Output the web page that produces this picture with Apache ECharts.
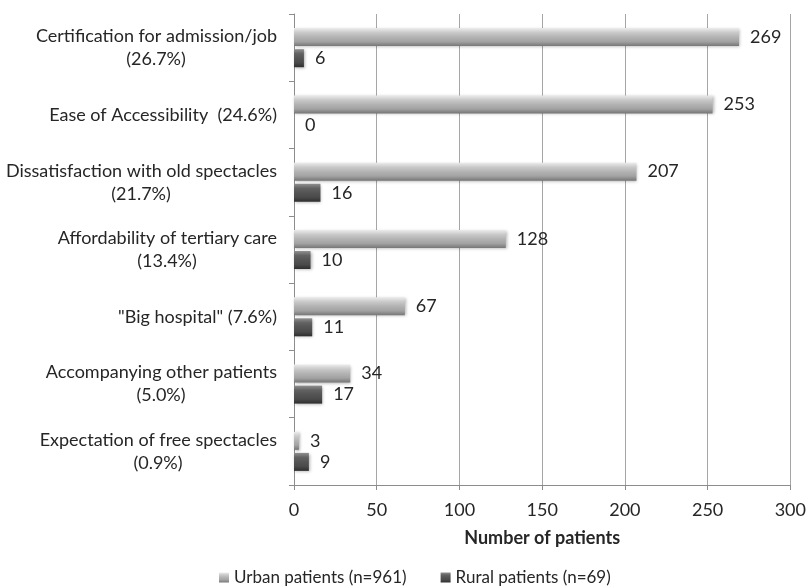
<!DOCTYPE html>
<html>
<head>
<meta charset="utf-8">
<script src="https://cdn.jsdelivr.net/npm/echarts@6/dist/echarts.min.js"></script>
<style>
  html, body { margin: 0; padding: 0; background: #fff; }
  #chart { width: 809px; height: 586px; }
</style>
</head>
<body>
<div id="chart"></div>
<script>
const reasonLines = [
  ["Certification for admission/job", "(26.7%)"],
  ["Ease of Accessibility  (24.6%)"],
  ["Dissatisfaction with old spectacles", "(21.7%)"],
  ["Affordability of tertiary care", "(13.4%)"],
  ["\"Big hospital\" (7.6%)"],
  ["Accompanying other patients", "(5.0%)"],
  ["Expectation of free spectacles", "(0.9%)"]
];
const urbanValues = [269, 253, 207, 128, 67, 34, 3];
const ruralValues = [6, 0, 16, 10, 11, 17, 9];
const seriesNames = ["Urban patients (n=961)", "Rural patients (n=69)"];

const FONT = "Lato";
const textColor = "#262626";
const LABEL_SIZE = 18;

// second line of a label is centred under the first one
const ctx = document.createElement("canvas").getContext("2d");
ctx.font = LABEL_SIZE + "px " + FONT;
const rich = { a: { fontSize: LABEL_SIZE, lineHeight: 23 } };
reasonLines.forEach((l, i) => {
  rich["c" + i] = {
    fontSize: LABEL_SIZE,
    lineHeight: 23,
    width: Math.ceil(ctx.measureText(l[0]).width),
    align: "center"
  };
});
const categories = reasonLines.map(l => l[0]);

const grad = (stops) => new echarts.graphic.LinearGradient(0, 0, 0, 1,
  stops.map((c, i) => ({ offset: i / (stops.length - 1), color: c })));

const urbanFill = grad(["#ececec", "#c9c9c9", "#b3b3b3", "#a2a2a2", "#767676"]);
const ruralFill = grad(["#8f8f8f", "#626262", "#545454", "#4a4a4a", "#2e2e2e"]);

const chart = echarts.init(document.getElementById("chart"));
chart.setOption({
  animation: false,
  textStyle: { fontFamily: FONT },
  grid: { left: 294, right: 14, top: 14, bottom: 101 },
  legend: {
    bottom: 0,
    left: 219,
    padding: 0,
    itemWidth: 10,
    itemHeight: 10,
    itemGap: 34,
    icon: "rect",
    textStyle: { fontSize: 17, color: textColor, fontFamily: FONT },
    data: seriesNames
  },
  xAxis: {
    type: "value",
    min: 0,
    max: 300,
    interval: 50,
    axisLine: { show: true, lineStyle: { color: "#8c8c8c" } },
    axisTick: { show: true, length: 5, lineStyle: { color: "#8c8c8c" } },
    splitLine: { show: true, lineStyle: { color: "#a6a6a6" } },
    axisLabel: { fontSize: 18, color: textColor, margin: 16 },
    name: "Number of patients",
    nameLocation: "middle",
    nameGap: 44,
    nameTextStyle: { fontSize: 18, fontWeight: "bold", color: textColor }
  },
  yAxis: {
    type: "category",
    inverse: true,
    data: categories,
    axisLine: { show: true, lineStyle: { color: "#8c8c8c" } },
    axisTick: { show: true, length: 5, lineStyle: { color: "#8c8c8c" } },
    axisLabel: {
      fontSize: LABEL_SIZE,
      color: textColor,
      margin: 17,
      formatter: (v, i) => {
        const l = reasonLines[i];
        return l.length > 1
          ? "{a|" + l[0] + "}\n{c" + i + "|" + l[1] + "}"
          : "{a|" + l[0] + "}";
      },
      rich: rich
    }
  },
  series: [
    {
      name: seriesNames[0],
      type: "bar",
      data: urbanValues,
      barWidth: 18,
      barGap: "17%",
      itemStyle: {
        color: urbanFill,
        shadowColor: "rgba(0,0,0,0.3)",
        shadowBlur: 3,
        shadowOffsetX: 1,
        shadowOffsetY: 1
      },
      label: { show: true, position: "right", distance: 11, fontSize: 18, color: textColor }
    },
    {
      name: seriesNames[1],
      type: "bar",
      data: ruralValues,
      barWidth: 18,
      barGap: "17%",
      itemStyle: {
        color: ruralFill,
        shadowColor: "rgba(0,0,0,0.3)",
        shadowBlur: 3,
        shadowOffsetX: 1,
        shadowOffsetY: 1
      },
      label: { show: true, position: "right", distance: 11, fontSize: 18, color: textColor }
    }
  ]
});
</script>
</body>
</html>
